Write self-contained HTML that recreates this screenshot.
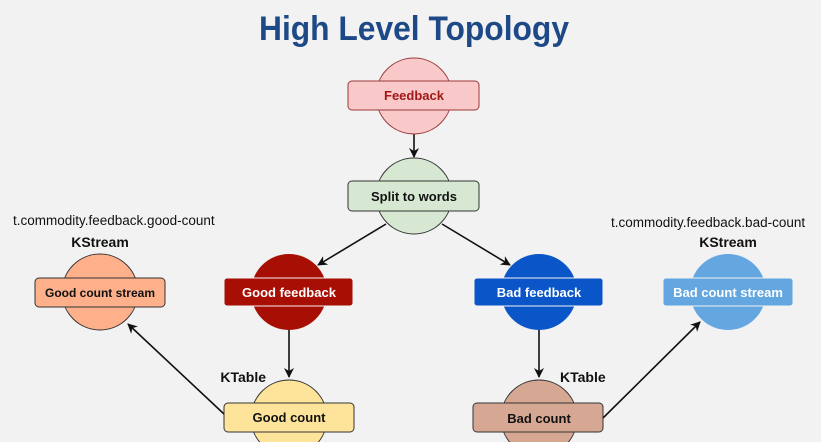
<!DOCTYPE html>
<html><head><meta charset="utf-8"><style>
body{margin:0;background:#f2f2f2;}
svg{display:block;font-family:"Liberation Sans",sans-serif;}
</style></head><body>
<svg width="821" height="442" viewBox="0 0 821 442">
<defs><marker id="a" markerWidth="10" markerHeight="10" refX="9" refY="5" orient="auto" markerUnits="userSpaceOnUse"><path d="M0,0 L10,5 L0,10 L3,5 z" fill="#111"/></marker></defs>
<rect width="821" height="442" fill="#f2f2f2"/>
<text x="414" y="40" text-anchor="middle" font-size="34" font-weight="bold" fill="#1d4a86" textLength="310" lengthAdjust="spacingAndGlyphs">High Level Topology</text>
<g stroke="#111" stroke-width="1.6" fill="none">
<line x1="414" y1="134" x2="414" y2="157" marker-end="url(#a)"/>
<line x1="386" y1="224" x2="318" y2="265" marker-end="url(#a)"/>
<line x1="442" y1="224" x2="510" y2="265" marker-end="url(#a)"/>
<line x1="289" y1="330" x2="289" y2="377" marker-end="url(#a)"/>
<line x1="539" y1="330" x2="539" y2="377" marker-end="url(#a)"/>
<line x1="224" y1="414" x2="128" y2="324" marker-end="url(#a)"/>
<line x1="603" y1="418" x2="700" y2="322" marker-end="url(#a)"/>
</g>
<g font-size="13" font-weight="bold" text-anchor="middle">
<circle cx="414" cy="96" r="38" fill="#f8c9c8" stroke="#9a3a3a"/>
<rect x="348" y="81" width="131" height="29" rx="4" fill="#f8c9c8" stroke="#9a3a3a"/>
<text x="414" y="100" fill="#a01818">Feedback</text>
<circle cx="414" cy="196" r="38" fill="#d7e8d2" stroke="#333"/>
<rect x="348" y="181" width="131" height="30" rx="4" fill="#d7e8d2" stroke="#333"/>
<text x="414" y="201" fill="#111">Split to words</text>
<circle cx="100" cy="292" r="38" fill="#fdb08a" stroke="#333"/>
<rect x="35" y="278" width="130" height="29" rx="4" fill="#fdb08a" stroke="#333"/>
<text x="100" y="297" fill="#111" font-size="12">Good count stream</text>
<circle cx="289" cy="292" r="38" fill="#a80f04"/>
<rect x="224" y="278" width="129" height="28" rx="3" fill="#a80f04" stroke="#f2f2f2"/>
<text x="289" y="297" fill="#fff">Good feedback</text>
<circle cx="289" cy="418" r="38" fill="#fde49a" stroke="#333"/>
<rect x="224" y="403" width="130" height="29" rx="4" fill="#fde49a" stroke="#333"/>
<text x="289" y="422" fill="#111">Good count</text>
<circle cx="539" cy="292" r="38" fill="#0a55c8"/>
<rect x="474" y="278" width="129" height="28" rx="3" fill="#0a55c8" stroke="#f2f2f2"/>
<text x="539" y="297" fill="#fff">Bad feedback</text>
<circle cx="539" cy="418" r="38" fill="#d6a894" stroke="#333"/>
<rect x="473" y="403" width="130" height="29" rx="4" fill="#d6a894" stroke="#333"/>
<text x="539" y="423" fill="#111">Bad count</text>
<circle cx="728" cy="292" r="38" fill="#64a6e0"/>
<rect x="663" y="278" width="130" height="28" rx="3" fill="#64a6e0" stroke="#f2f2f2"/>
<text x="728" y="297" fill="#fff">Bad count stream</text>
</g>
<g font-size="13.5" fill="#111">
<text x="13" y="225">t.commodity.feedback.good-count</text>
<text x="611" y="227">t.commodity.feedback.bad-count</text>
</g>
<g font-size="14" font-weight="bold" fill="#111">
<text x="100" y="247" text-anchor="middle">KStream</text>
<text x="728" y="247" text-anchor="middle">KStream</text>
<text x="266" y="382" text-anchor="end">KTable</text>
<text x="560" y="382">KTable</text>
</g>
</svg>
</body></html>
